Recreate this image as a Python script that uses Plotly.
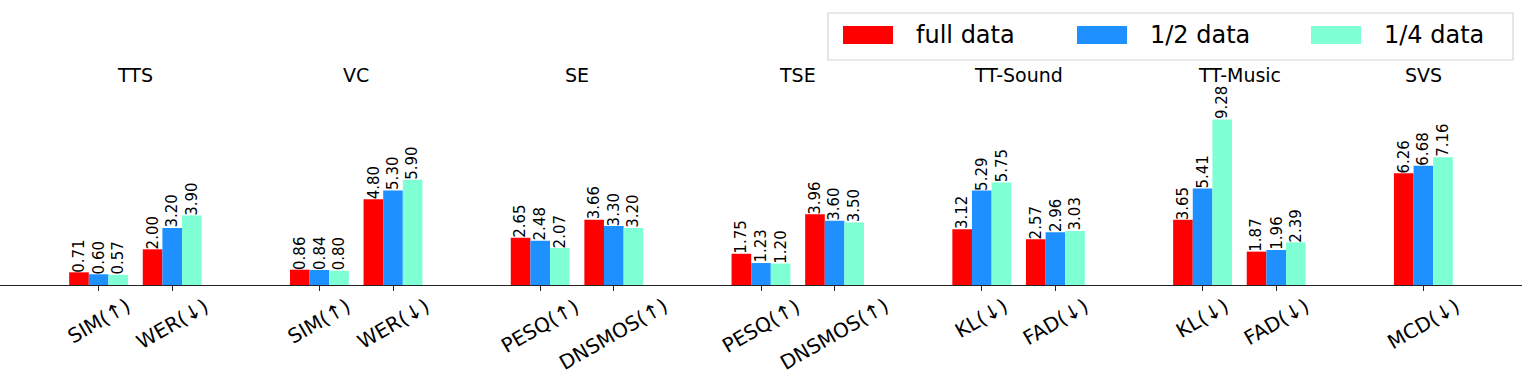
"""Grouped bars: metrics per task at full / 1/2 / 1/4 training data."""

import plotly.graph_objects as go

groups = ["TTS", "VC", "SE", "TSE", "TT-Sound", "TT-Music", "SVS"]
group_metrics = [
    ["SIM(↑)", "WER(↓)"],
    ["SIM(↑)", "WER(↓)"],
    ["PESQ(↑)", "DNSMOS(↑)"],
    ["PESQ(↑)", "DNSMOS(↑)"],
    ["KL(↓)", "FAD(↓)"],
    ["KL(↓)", "FAD(↓)"],
    ["MCD(↓)"],
]

full_data = [0.71, 2.00, 0.86, 4.80, 2.65, 3.66, 1.75, 3.96, 3.12, 2.57, 3.65, 1.87, 6.26]
half_data = [0.60, 3.20, 0.84, 5.30, 2.48, 3.30, 1.23, 3.60, 5.29, 2.96, 5.41, 1.96, 6.68]
quarter_data = [0.57, 3.90, 0.80, 5.90, 2.07, 3.20, 1.20, 3.50, 5.75, 3.03, 9.28, 2.39, 7.16]

series = [
    ("full data", full_data, "#FF0000"),
    ("1/2 data", half_data, "#1E90FF"),
    ("1/4 data", quarter_data, "#7FFFD4"),
]

FONT = "DejaVu Sans"
W, H = 1522, 381
PLOT_H = 285  # height of plotting area in px (bottom margin holds tick labels)
BAR_W = 0.8 / len(series)

# positions: metrics of a task side by side, one empty slot between tasks
xpos, labels, centers = [], [], []
pos = 0
for metrics in group_metrics:
    start = pos
    for m in metrics:
        xpos.append(pos)
        labels.append(m)
        pos += 1
    centers.append((start + pos - 1) / 2)
    pos += 1

fig = go.Figure()
for i, (name, vals, color) in enumerate(series):
    fig.add_trace(
        go.Bar(
            x=xpos,
            y=vals,
            name=name,
            marker=dict(color=color, line=dict(width=0)),
            showlegend=False,
        )
    )
    off = (i - (len(series) - 1) / 2) * BAR_W
    for x, v in zip(xpos, vals):
        fig.add_annotation(
            x=x + off, y=v, text=f"{v:.2f}", showarrow=False,
            textangle=-90, xanchor="center", yanchor="bottom",
            borderpad=0, yshift=-1,
            font=dict(family=FONT, size=15, color="black"),
        )

for c, g in zip(centers, groups):
    fig.add_annotation(
        x=c, y=11.75, text=g, showarrow=False,
        xanchor="center", yanchor="middle",
        font=dict(family=FONT, size=19, color="black"),
    )

for x, lab in zip(xpos, labels):
    fig.add_annotation(
        x=x, y=0, yref="paper", yshift=-6, text=lab, showarrow=False,
        textangle=-30, xanchor="center", yanchor="top",
        font=dict(family=FONT, size=20, color="black"),
    )

# legend drawn by hand so the swatches match the wide matplotlib patches
def px_x(p):
    return p / W


def px_y(p):
    return 1 - p / PLOT_H


fig.add_shape(
    type="rect", xref="paper", yref="paper",
    x0=px_x(828), x1=px_x(1513), y0=px_y(60), y1=px_y(13),
    line=dict(color="#D5D5D5", width=1.2), fillcolor="rgba(255,255,255,0.8)",
)
for i, (name, _, color) in enumerate(series):
    left = 843 + i * 234
    fig.add_shape(
        type="rect", xref="paper", yref="paper",
        x0=px_x(left), x1=px_x(left + 50), y0=px_y(44), y1=px_y(26),
        line=dict(width=0), fillcolor=color,
    )
    fig.add_annotation(
        x=px_x(left + 71), y=px_y(35), xref="paper", yref="paper",
        text=name, showarrow=False, xanchor="left", yanchor="middle",
        font=dict(family=FONT, size=24, color="black"),
    )

span = xpos[-1] - xpos[0] + 0.8
fig.update_xaxes(
    range=[xpos[0] - 0.4 - 0.05 * span, xpos[-1] + 0.4 + 0.05 * span],
    tickvals=xpos,
    showticklabels=False,
    ticks="outside",
    ticklen=5,
    tickcolor="#222",
    showline=True,
    linecolor="#222",
    linewidth=1.3,
    showgrid=False,
    zeroline=False,
)
fig.update_yaxes(range=[0, 15.97], visible=False)

fig.update_layout(
    width=W,
    height=H,
    barmode="group",
    bargap=0.2,
    bargroupgap=0,
    plot_bgcolor="white",
    paper_bgcolor="white",
    margin=dict(l=0, r=0, t=0, b=H - PLOT_H),
    font=dict(family=FONT, color="black"),
)

fig.write_html(
    "out.html",
    config={"displayModeBar": False},
    post_script="document.body.style.margin='0';",
)
